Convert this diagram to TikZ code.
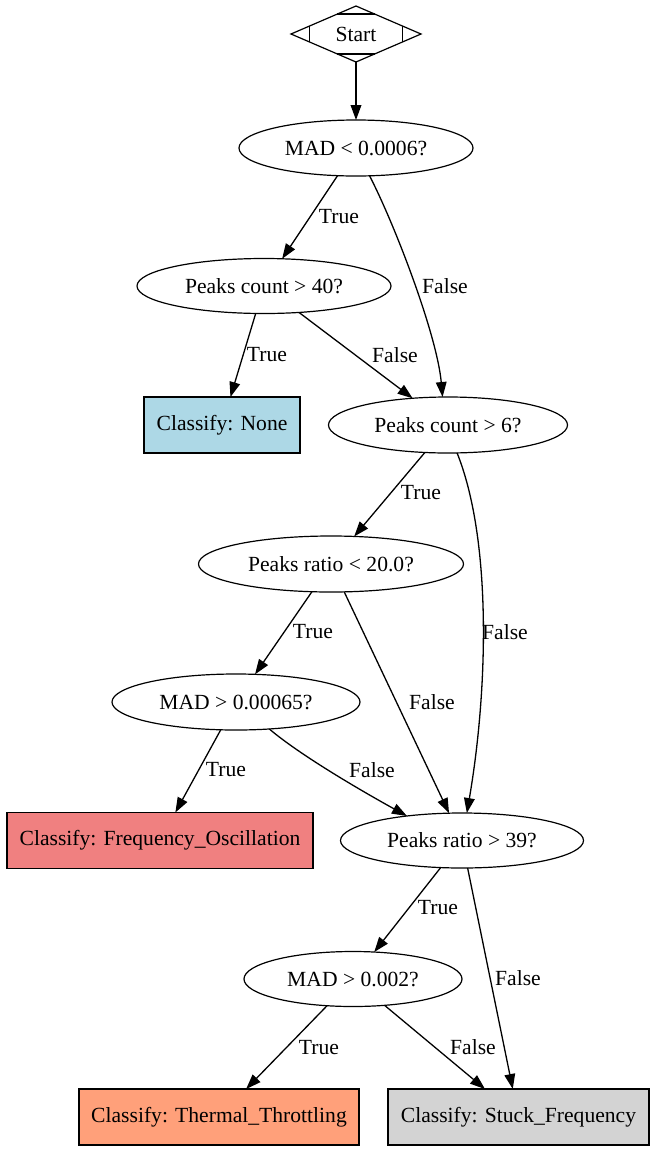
\documentclass[tikz,border=0pt]{standalone}
\usepackage{fontspec}
\setmainfont{Liberation Serif}
\usetikzlibrary{shapes.geometric,arrows.meta,calc}
\definecolor{lblue}{HTML}{ADD8E6}
\definecolor{lcoral}{HTML}{F08080}
\definecolor{lsalmon}{HTML}{FFA07A}
\definecolor{lgray}{HTML}{D3D3D3}
\tikzset{
  every node/.style={font=\fontsize{21.6}{26}\selectfont},
  decision/.style={draw, ellipse, line width=1.2pt, inner sep=0pt, outer sep=0pt, minimum height=55pt},
  leafbox/.style={draw, rectangle, line width=1.2pt, inner sep=0pt, outer sep=0pt, minimum height=56pt},
  edge/.style={draw, line width=1.3pt, -{Triangle[length=15pt,width=10.7pt]}},
  lbl/.style={inner sep=0pt}
}
\begin{document}
\begin{tikzpicture}[x=1pt,y=-1pt]
\useasboundingbox (0,0) rectangle (655,1152);
% nodes
\node[draw, diamond, line width=1.2pt, inner sep=0pt, outer sep=0pt, minimum width=130pt, minimum height=56pt] (s) at (356,34) {Start};
\draw[line width=1.2pt] ($(s.north)!0.286!(s.west)$) -- ($(s.north)!0.286!(s.east)$);
\draw[line width=1.2pt] ($(s.south)!0.286!(s.west)$) -- ($(s.south)!0.286!(s.east)$);
\draw[line width=1.2pt] ($(s.west)!0.286!(s.north)$) -- ($(s.west)!0.286!(s.south)$);
\draw[line width=1.2pt] ($(s.east)!0.286!(s.north)$) -- ($(s.east)!0.286!(s.south)$);

\node[decision, minimum width=234pt, minimum height=56pt] (mad) at (356,148) {MAD < 0.0006?};
\node[decision, minimum width=254pt] (pc40) at (264,286) {Peaks count > 40?};
\node[leafbox, fill=lblue, minimum width=156pt] (none) at (222,425) {Classify: None};
\node[decision, minimum width=239pt, minimum height=56pt] (pc6) at (448,425) {Peaks count > 6?};
\node[decision, minimum width=265pt, minimum height=56pt] (pr20) at (331,564) {Peaks ratio < 20.0?};
\node[decision, minimum width=248pt, minimum height=56pt] (mad65) at (236,702) {MAD > 0.00065?};
\node[leafbox, fill=lcoral, minimum width=306pt] (fo) at (160,840.5) {Classify: Frequency\_Oscillation};
\node[decision, minimum width=243pt] (pr39) at (462,840.5) {Peaks ratio > 39?};
\node[decision, minimum width=218pt] (mad002) at (353,979) {MAD > 0.002?};
\node[leafbox, fill=lsalmon, minimum width=280pt] (tt) at (219,1117) {Classify: Thermal\_Throttling};
\node[leafbox, fill=lgray, minimum width=261pt] (sf) at (518.5,1117) {Classify: Stuck\_Frequency};

% edges
\draw[edge] (s) -- (mad);
\draw[edge] (mad) -- (pc40);
\draw[edge] (mad.-64) .. controls (395,225) and (437,335) .. (pc6.101.7);
\draw[edge] (pc40) -- (none);
\draw[edge] (pc40) -- (pc6);
\draw[edge] (pc6) -- (pr20);
\draw[edge] (pc6.-72.2) .. controls (492,540) and (488,690) .. (pr39.80.2);
\draw[edge] (pr20) -- (mad65);
\draw[edge] (pr20) -- (pr39);
\draw[edge] (mad65) -- (fo);
\draw[edge] (mad65.-39.3) .. controls (300,755) and (360,790) .. (pr39.156.9);
\draw[edge] (pr39) -- (mad002);
\draw[edge] (pr39) -- (sf);
\draw[edge] (mad002) -- (tt);
\draw[edge] (mad002) -- (sf);

% labels
\node[lbl] (l1) at (339,217) {True};
\node[lbl] (l2) at (445,286) {False};
\node[lbl] (l3) at (267,355) {True};
\node[lbl] (l4) at (395,355) {False};
\node[lbl] (l5) at (421,493) {True};
\node[lbl] (l6) at (505,632) {False};
\node[lbl] (l7) at (313,632) {True};
\node[lbl] (l8) at (432,702) {False};
\node[lbl] (l9) at (226,770) {True};
\node[lbl] (l10) at (372,770) {False};
\node[lbl] (l11) at (438,908) {True};
\node[lbl] (l12) at (518,978) {False};
\node[lbl] (l13) at (319,1048) {True};
\node[lbl] (l14) at (473,1047) {False};
\end{tikzpicture}
\end{document}
